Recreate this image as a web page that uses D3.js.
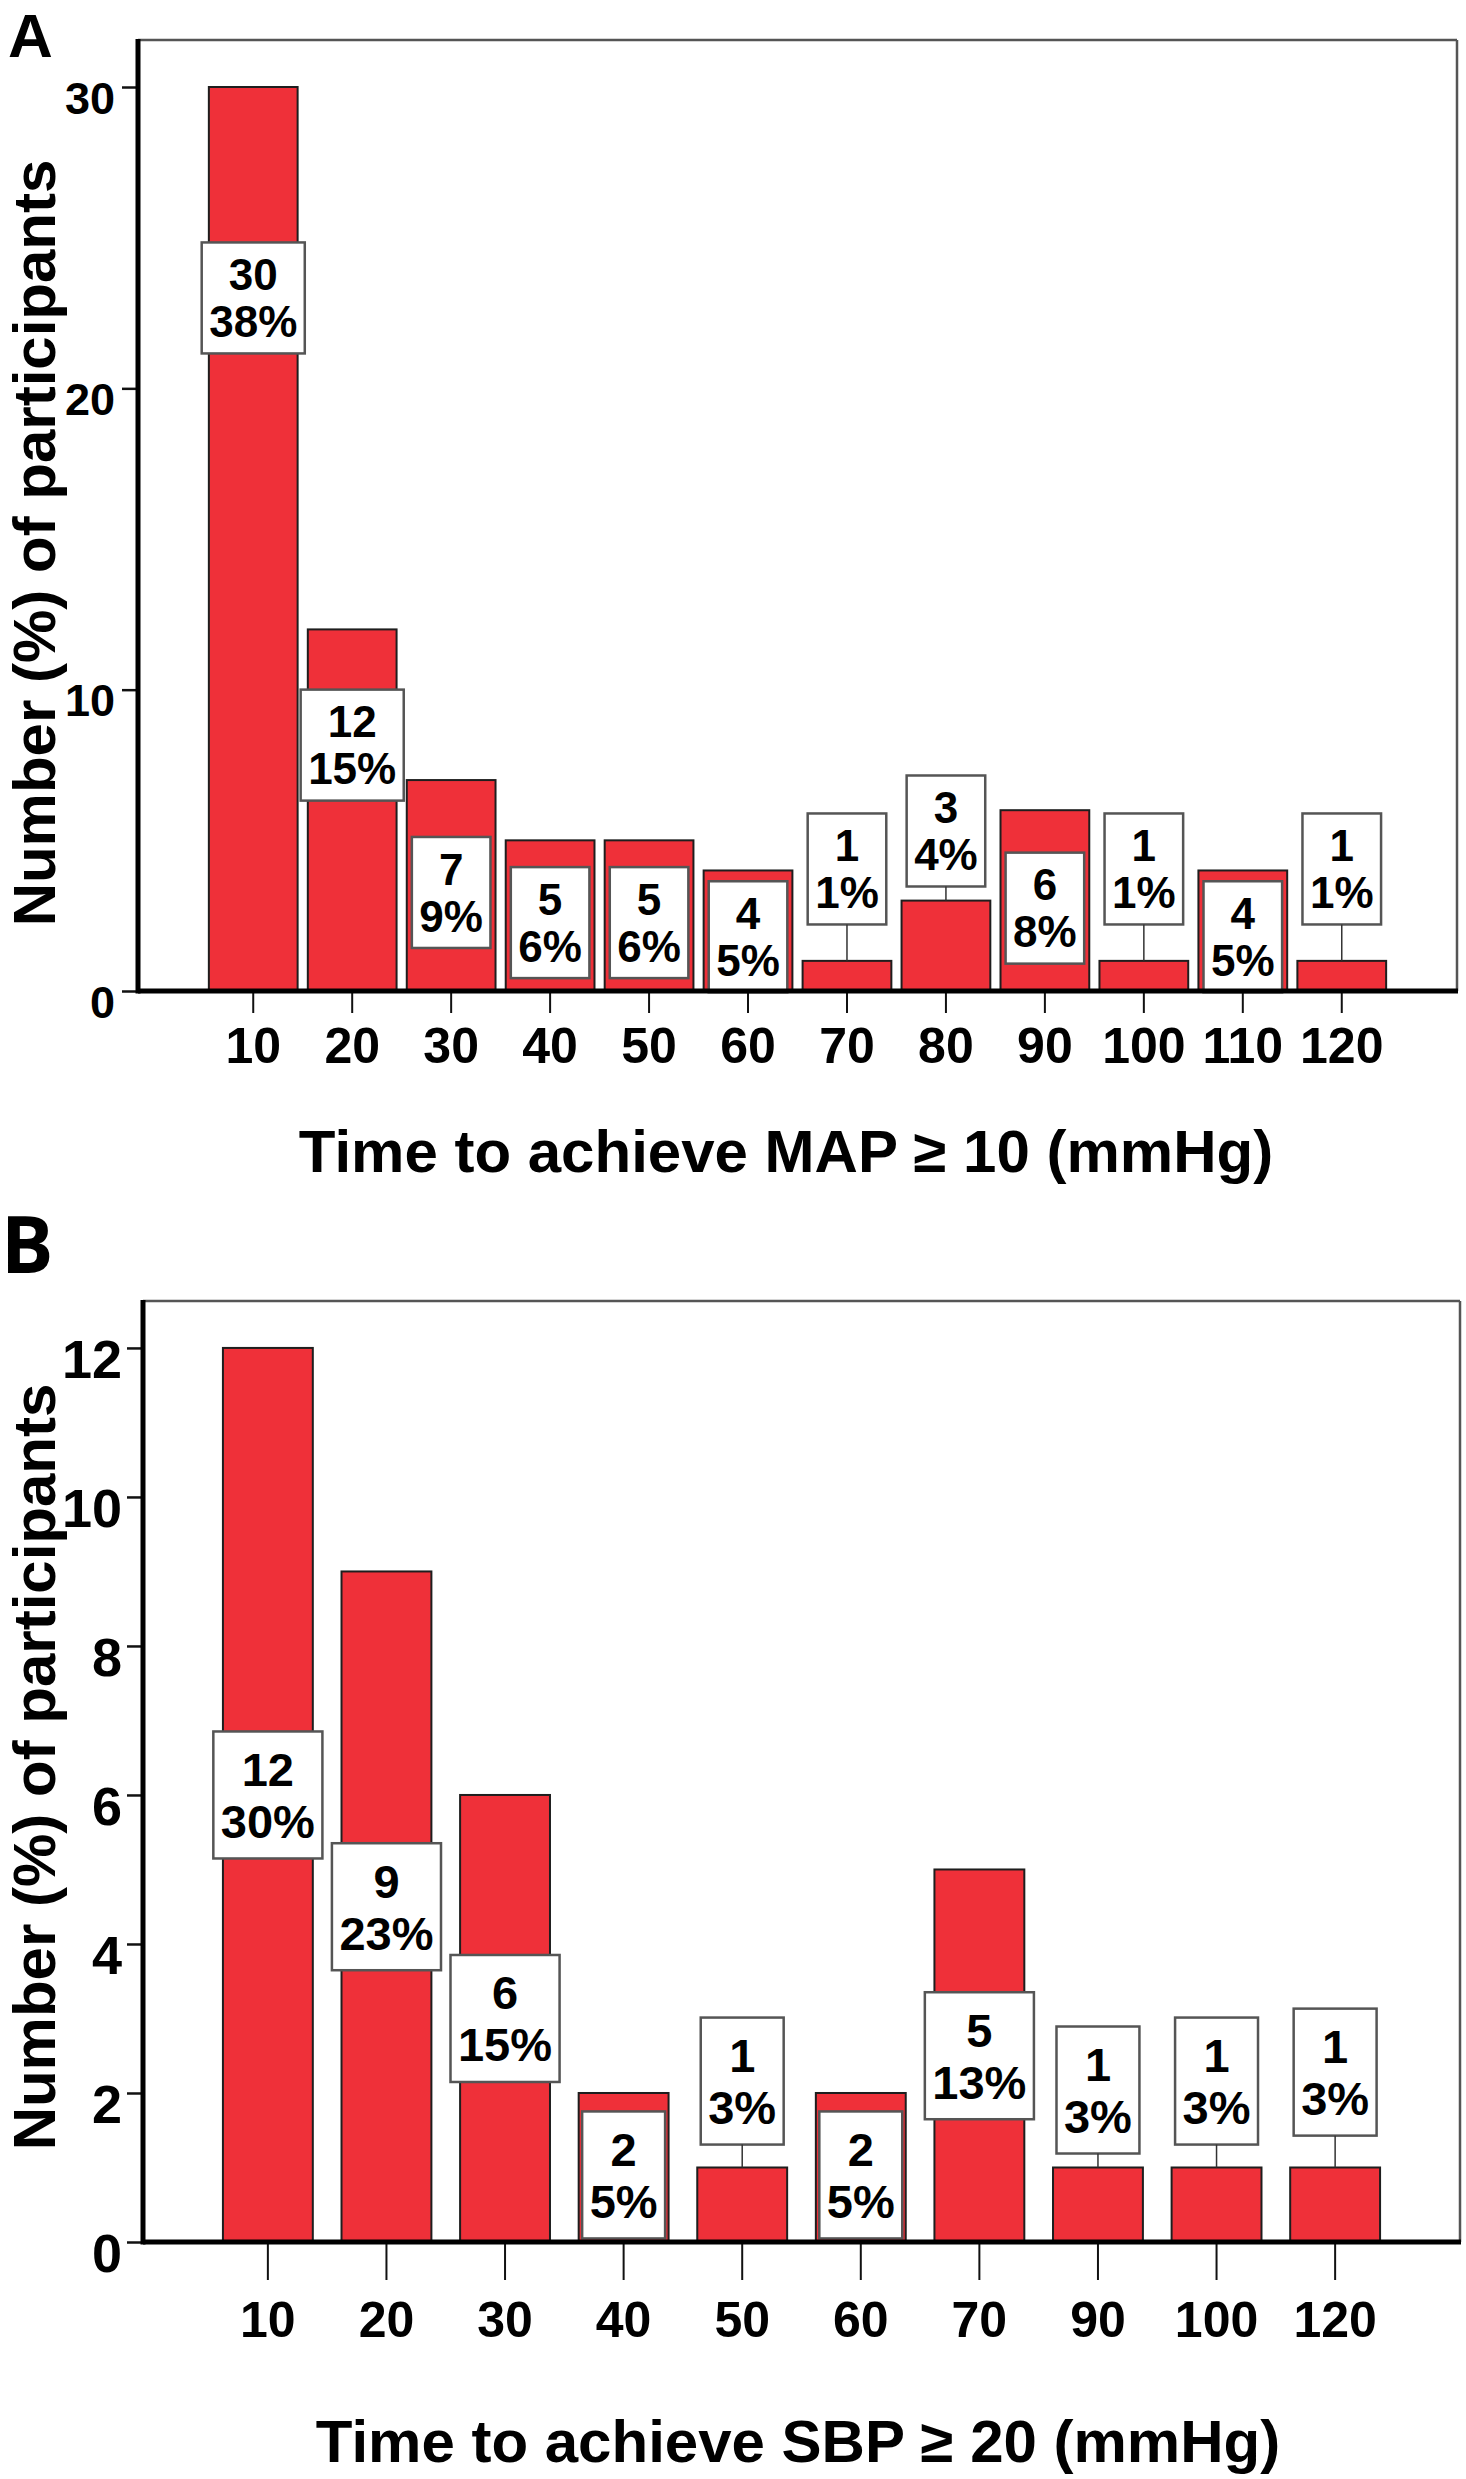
<!DOCTYPE html>
<html>
<head>
<meta charset="utf-8">
<script src="https://cdn.jsdelivr.net/npm/d3@7/dist/d3.min.js"></script>
<style>
  body { margin: 0; background: #fff; }
  svg { display: block; }
  text { font-family: "Liberation Sans", Arial, sans-serif; font-weight: bold; fill: #000; }
</style>
</head>
<body>
<svg id="chart" width="1466" height="2479"></svg>
<script>
// ---------- Panel A data ----------
const catsA = ["10","20","30","40","50","60","70","80","90","100","110","120"];
const countsA = [30, 12, 7, 5, 5, 4, 1, 3, 6, 1, 4, 1];
const pctA = ["38%","15%","9%","6%","6%","5%","1%","4%","8%","1%","5%","1%"];
const labelCenterA = [23.0, 8.16, 3.27, 2.27, 2.27, 1.8, 4.05, 5.31, 2.75, 4.05, 1.8, 4.05];
const yTicksA = [0, 10, 20, 30];
const xTitleA = "Time to achieve MAP \u2265 10 (mmHg)";

// ---------- Panel B data ----------
const catsB = ["10","20","30","40","50","60","70","90","100","120"];
const countsB = [12, 9, 6, 2, 1, 2, 5, 1, 1, 1];
const pctB = ["30%","23%","15%","5%","3%","5%","13%","3%","3%","3%"];
const labelCenterB = [6, 4.5, 3, 0.9, 2.16, 0.9, 2.5, 2.04, 2.16, 2.28];
const yTicksB = [0, 2, 4, 6, 8, 10, 12];
const xTitleB = "Time to achieve SBP \u2265 20 (mmHg)";

const yTitle = "Number (%) of participants";

const svg = d3.select("#chart");

function drawPanel(cfg) {
  const g = svg.append("g");
  const x = d3.scaleBand().domain(cfg.cats).range([cfg.left, cfg.right])
    .paddingInner(cfg.padInner).paddingOuter(cfg.padOuter);
  const y = d3.scaleLinear().domain([0, cfg.yMax]).range([cfg.zero, cfg.top]);

  // frame (top / right thin gray)
  g.append("line").attr("x1", cfg.left).attr("x2", cfg.right).attr("y1", cfg.top).attr("y2", cfg.top)
    .attr("stroke", "#555").attr("stroke-width", 2.5);
  g.append("line").attr("x1", cfg.right).attr("x2", cfg.right).attr("y1", cfg.top).attr("y2", cfg.zero)
    .attr("stroke", "#555").attr("stroke-width", 2.5);

  // bars
  const data = cfg.cats.map((c, i) => ({ c, v: cfg.counts[i], p: cfg.pct[i], lc: cfg.labelCenter[i] }));
  g.selectAll("rect.bar").data(data).join("rect").attr("class", "bar")
    .attr("x", d => x(d.c)).attr("width", x.bandwidth())
    .attr("y", d => y(d.v)).attr("height", d => y(0) - y(d.v))
    .attr("fill", "#ef3039").attr("stroke", "#1e1e1e").attr("stroke-width", 2);

  // labels
  const lab = g.selectAll("g.lab").data(data).join("g").attr("class", "lab");
  lab.each(function(d) {
    const el = d3.select(this);
    const cx = x(d.c) + x.bandwidth() / 2;
    const cy = y(d.lc);
    const rect = el.append("rect");
    const conn = el.append("line");
    const cap = cfg.labFont * 0.716;
    const t1 = el.append("text").attr("x", cx).attr("y", cy - cfg.labGap / 2 + cap / 2)
      .attr("text-anchor", "middle").style("font-size", cfg.labFont + "px").text(d.v);
    const t2 = el.append("text").attr("x", cx).attr("y", cy + cfg.labGap / 2 + cap / 2)
      .attr("text-anchor", "middle").style("font-size", cfg.labFont + "px").text(d.p);
    const w = Math.max(t1.node().getComputedTextLength(), t2.node().getComputedTextLength()) + cfg.labPad;
    rect.attr("x", cx - w / 2).attr("y", cy - cfg.labH / 2).attr("width", w).attr("height", cfg.labH)
      .attr("fill", "#fff").attr("stroke", "#555").attr("stroke-width", 2.5);
    const boxBottom = cy + cfg.labH / 2;
    if (boxBottom < y(d.v)) {
      conn.attr("x1", cx).attr("x2", cx).attr("y1", boxBottom).attr("y2", y(d.v))
        .attr("stroke", "#333").attr("stroke-width", 1.5);
    } else {
      conn.remove();
    }
  });

  // y axis
  const yAxis = d3.axisLeft(y).tickValues(cfg.yTicks).tickSize(16).tickFormat(d3.format("d"));
  const ya = g.append("g").attr("transform", `translate(${cfg.left},0)`).call(yAxis);
  ya.select(".domain").remove();
  ya.selectAll(".tick line").attr("stroke", "#111").attr("stroke-width", 2.5);
  ya.selectAll(".tick text").attr("x", cfg.yLabX - cfg.left).attr("dy", null)
    .attr("y", cfg.yFont * 0.716 / 2 + 10)
    .style("font-size", cfg.yFont + "px").style("font-family", '"Liberation Sans", Arial, sans-serif')
    .style("font-weight", "bold").attr("fill", "#000");

  // x axis
  const xAxis = d3.axisBottom(x).tickSize(cfg.xTickLen);
  const xa = g.append("g").attr("transform", `translate(0,${cfg.zero + 2})`).call(xAxis);
  xa.select(".domain").remove();
  xa.selectAll(".tick line").attr("stroke", "#111").attr("stroke-width", 2);
  xa.selectAll(".tick text").attr("dy", null).attr("y", cfg.xLabBase - cfg.zero - 2)
    .style("font-size", cfg.xFont + "px").style("font-family", '"Liberation Sans", Arial, sans-serif')
    .style("font-weight", "bold").attr("fill", "#000");

  // thick axis lines
  g.append("line").attr("x1", cfg.left).attr("x2", cfg.left).attr("y1", cfg.top - 1).attr("y2", cfg.zero + 2.5)
    .attr("stroke", "#000").attr("stroke-width", 5);
  g.append("line").attr("x1", cfg.left).attr("x2", cfg.right + 1).attr("y1", cfg.zero).attr("y2", cfg.zero)
    .attr("stroke", "#000").attr("stroke-width", 5);

  // titles
  g.append("text").attr("x", cfg.xTitleX).attr("y", cfg.xTitleY).attr("text-anchor", "middle")
    .style("font-size", "60px").text(cfg.xTitle);
  g.append("text").attr("transform", `translate(55,${cfg.yTitleY}) rotate(-90)`).attr("text-anchor", "middle")
    .style("font-size", "60px").text(yTitle);
  g.append("text").attr("x", cfg.letterX).attr("y", cfg.letterY)
    .style("font-family", cfg.letterFamily).style("font-weight", "bold")
    .style("font-size", cfg.letterFont + "px").text(cfg.letter);
}

drawPanel({
  cats: catsA, counts: countsA, pct: pctA, labelCenter: labelCenterA, yTicks: yTicksA,
  left: 138, right: 1457, top: 40, zero: 991, yMax: 31.56,
  padInner: 0.103, padOuter: 0.716,
  labFont: 44, labGap: 47, labH: 111, labPad: 15,
  yFont: 45, yLabX: 115, xFont: 50, xTickLen: 20, xLabBase: 1063,
  xTitle: xTitleA, xTitleX: 786, xTitleY: 1172, yTitleY: 543,
  letter: "A", letterX: 8, letterY: 57, letterFont: 62,
  letterFamily: '"Liberation Sans", Arial, sans-serif'
});

drawPanel({
  cats: catsB, counts: countsB, pct: pctB, labelCenter: labelCenterB, yTicks: yTicksB,
  left: 143, right: 1460, top: 1301, zero: 2242, yMax: 12.63,
  padInner: 0.242, padOuter: 0.674,
  labFont: 47, labGap: 52, labH: 127, labPad: 15,
  yFont: 54, yLabX: 122, xFont: 50, xTickLen: 36, xLabBase: 2337,
  xTitle: xTitleB, xTitleX: 798, xTitleY: 2462, yTitleY: 1767,
  letter: "B", letterX: 1, letterY: 1273, letterFont: 78,
  letterFamily: '"Open Sans", "Noto Sans", sans-serif'
});
</script>
</body>
</html>
